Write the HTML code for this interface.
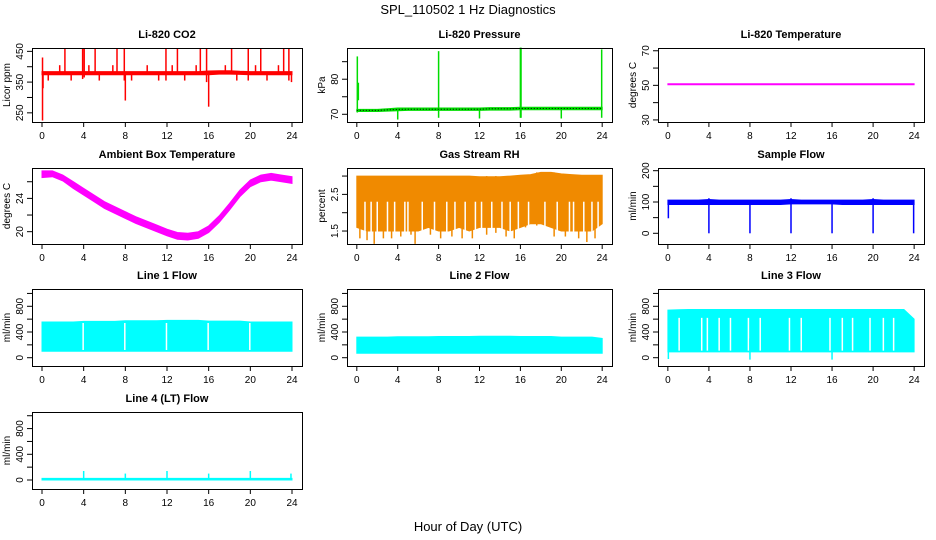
<!DOCTYPE html>
<html><head><meta charset="utf-8"><style>
body{margin:0;background:#fff}
svg{display:block;font-family:"Liberation Sans",sans-serif}
</style></head><body>
<svg id="fig" width="936" height="540" viewBox="0 0 936 540">
<rect width="936" height="540" fill="#fff"/>
<text x="468" y="14" font-size="13" text-anchor="middle">SPL_110502  1 Hz Diagnostics</text>
<text x="468" y="531" font-size="13" text-anchor="middle">Hour of Day (UTC)</text>
</svg>
<script>
const hours=[0,1,2,3,4,5,6,7,8,9,10,11,12,13,14,15,16,17,18,19,20,21,22,23,24];
const xTicks=[0,4,8,12,16,20,24];
// CO2
const co2Lo=[374,374,374,374,374,374,374,374,374,374,374,374,374,374,374,374,374,376,376,375,374,374,374,374,374];
const co2Hi=[384,384,384,384,384,384,384,384,384,384,384,384,384,384,384,384,386,387,387,385,384,384,384,384,384];
const co2SpX=[0.05,0.1,0.6,1.7,2.2,2.8,3.9,4.05,4.5,5.1,5.5,6.8,7.2,7.9,8.0,8.6,10.1,11.2,11.9,12.5,13.0,13.7,14.8,15.2,15.8,16.0,17.6,18.2,18.7,19.8,20.5,21.0,21.6,22.7,23.2,23.7,23.95];
const co2SpLo=[225,330,355,380,380,355,360,365,380,380,355,380,380,355,290,355,380,355,355,380,380,355,380,380,350,270,380,380,355,355,380,380,355,380,380,355,350];
const co2SpHi=[430,380,380,405,458,380,458,460,405,458,380,405,458,460,380,380,405,380,458,405,458,380,405,458,458,380,405,458,380,460,405,458,380,405,458,458,380];
// Pressure
const prLo=[70.8,70.8,70.8,70.9,71.0,71.1,71.1,71.1,71.1,71.1,71.1,71.1,71.1,71.2,71.2,71.2,71.3,71.3,71.3,71.3,71.3,71.3,71.3,71.3,71.3];
const prHi=[71.4,71.4,71.4,71.6,71.8,71.8,71.8,71.8,71.8,71.8,71.8,71.8,71.8,71.9,71.9,71.9,72.0,72.0,72.0,72.0,72.0,72.0,72.0,72.0,72.0];
const prSpX=[0.05,0.15,4.0,8.0,12.0,16.0,16.06,20.0,23.95];
const prSpLo=[70.5,74,68.5,69,68.8,69,69,68.8,69];
const prSpHi=[86.5,79,71.8,88,71.8,89,89,72,88.5];
// Li-820 temperature
const tLo=[50.4,50.4,50.4,50.4,50.4,50.4,50.4,50.4,50.4,50.4,50.4,50.4,50.4,50.4,50.4,50.4,50.4,50.4,50.4,50.4,50.4,50.4,50.4,50.4,50.4];
const tHi=tLo;
// Ambient box temperature
const abLo=[26.5,26.6,26.1,25.2,24.4,23.6,22.8,22.2,21.6,21.0,20.5,20.0,19.5,19.1,19.0,19.2,19.9,21.1,22.6,24.2,25.4,26.0,26.2,26.0,25.8];
const abHi=[27.3,27.3,26.8,26.0,25.2,24.4,23.6,23.0,22.4,21.8,21.3,20.8,20.3,19.9,19.8,20.0,20.7,21.9,23.4,25.0,26.2,26.8,27.0,26.8,26.6];
// Gas stream RH
const rhLo=[1.6,1.5,1.5,1.5,1.5,1.5,1.5,1.6,1.5,1.5,1.6,1.5,1.6,1.6,1.6,1.5,1.6,1.7,1.7,1.6,1.5,1.5,1.5,1.5,1.7];
const rhHi=[3.0,3.0,3.0,3.0,3.0,3.0,3.0,3.0,3.0,3.0,3.0,3.0,2.98,2.98,2.98,3.0,3.02,3.04,3.1,3.1,3.06,3.04,3.02,3.02,3.02];
const rhSpX=[0.3,1.0,1.7,2.6,3.4,4.3,5.3,5.7,7.2,8.2,9.3,10.3,11.3,12.7,13.6,14.6,15.4,16.5,17.6,19.3,20.4,21.7,22.5,23.3];
const rhSpLo=[1.3,1.25,1.15,1.3,1.3,1.35,1.4,1.15,1.4,1.3,1.35,1.3,1.3,1.4,1.45,1.35,1.3,1.6,1.65,1.35,1.35,1.3,1.2,1.3];
const rhSpHi=[3.0,3.0,3.0,3.0,3.0,3.0,3.0,3.0,3.0,3.0,3.0,3.0,3.0,3.0,3.0,3.0,3.0,3.0,3.1,3.1,3.0,3.0,3.0,3.0];
const rhGapX=[0.8,1.4,2.0,3.0,3.7,4.7,5.0,6.4,7.6,8.8,9.6,10.6,11.6,12.2,13.2,14.2,15.0,15.8,16.8,18.4,19.6,20.8,21.2,22.2,23.0,23.6];
// Sample flow
const sfLo=[92,92,92,92,92,92,92,92,92,92,92,92,94,94,94,94,94,92,92,92,92,92,92,92,92];
const sfHi=[106,106,106,106,108,106,106,106,106,106,106,106,108,106,106,106,106,106,106,106,108,106,106,106,106];
const sfSpX=[0.05,4.0,8.0,12.0,16.0,20.0,23.95];
const sfSpLo=[48,0,0,0,0,0,0];
const sfSpHi=[100,112,100,112,100,112,100];
// Line flows
const l1Lo=[100,100,100,100,100,100,100,100,100,100,100,100,100,100,100,100,100,100,100,100,100,100,100,100,100];
const l1Hi=[555,555,555,555,565,565,565,565,575,575,575,575,580,580,580,580,570,570,570,570,555,555,555,555,555];
const l1GapX=[3.95,7.95,11.95,15.95,19.95];
const l2Lo=[70,70,70,70,70,70,70,70,70,70,70,70,70,70,70,70,70,70,70,70,70,70,70,70,70];
const l2Hi=[320,320,320,320,325,325,325,325,330,330,330,330,335,335,335,335,330,330,330,330,320,320,320,320,300];
const l3Lo=[90,90,90,90,90,90,90,90,90,90,90,90,90,90,90,90,90,90,90,90,90,90,90,90,90];
const l3Hi=[740,745,750,750,750,750,750,750,750,750,750,750,750,750,750,750,750,750,750,750,750,750,750,750,600];
const l3GapX=[1.1,3.3,3.85,5.0,6.1,7.85,9.0,11.85,13.0,15.8,17.0,18.0,19.7,21.0,22.0];
const l3SpX=[0.05,8.0,16.0];
const l3SpLo=[-20,-30,-30];
const l3SpHi=[200,300,300];
const l4Lo=[0,0,0,0,0,0,0,0,0,0,0,0,0,0,0,0,0,0,0,0,0,0,0,0,0];
const l4Hi=[25,25,25,25,25,25,25,25,25,25,25,25,25,25,25,25,25,25,25,25,25,25,25,25,25];
const l4SpX=[4.0,8.0,12.0,16.0,20.0,23.9];
const l4SpLo=[0,0,0,0,0,0];
const l4SpHi=[140,100,140,100,140,100];

const lineTicks=[0,200,400,600,800,1000];
const lineLabels=["0","","400","","800",""];

const cols=[[32,302],[347,612],[658,924]];
const rows=[[48,122],[168,244],[289,366],[412,489]];
const NS="http://www.w3.org/2000/svg";
const svg=document.getElementById('fig');
function mk(tag,attrs,parent){const e=document.createElementNS(NS,tag);for(const k in attrs)e.setAttribute(k,attrs[k]);(parent||svg).appendChild(e);return e;}

const panels=[
 {id:'co2',title:'Li-820 CO2',ylab:'Licor ppm',c:0,r:0,ymin:220.2,ymax:460.9,ticks:[250,300,350,400,450],labels:["250","","350","","450"],color:'#ff0000',lo:co2Lo,hi:co2Hi,spX:co2SpX,spLo:co2SpLo,spHi:co2SpHi,sw:1.5},
 {id:'pressure',title:'Li-820 Pressure',ylab:'kPa',c:1,r:0,ymin:67.8,ymax:88.9,ticks:[70,75,80,85],labels:["70","","80",""],color:'#00dd00',lo:prLo,hi:prHi,spX:prSpX,spLo:prSpLo,spHi:prSpHi,dotted:true,sw:1.5},
 {id:'li820-temp',title:'Li-820 Temperature',ylab:'degrees C',c:2,r:0,ymin:28.8,ymax:71.6,ticks:[30,40,50,60,70],labels:["30","","50","","70"],color:'#ff00ff',lo:tLo,hi:tHi},
 {id:'ambient-temp',title:'Ambient Box Temperature',ylab:'degrees C',c:0,r:1,ymin:18.52,ymax:27.65,ticks:[20,22,24,26],labels:["20","","24",""],color:'#ff00ff',lo:abLo,hi:abHi},
 {id:'gas-rh',title:'Gas Stream RH',ylab:'percent',c:1,r:1,ymin:1.146,ymax:3.22,ticks:[1.5,2,2.5,3],labels:["1.5","","2.5",""],color:'#f08a00',lo:rhLo,hi:rhHi,spX:rhSpX,spLo:rhSpLo,spHi:rhSpHi,gapX:rhGapX,gapLo:1.4,gapHi:2.3,sw:1.5},
 {id:'sample-flow',title:'Sample Flow',ylab:'ml/min',c:2,r:1,ymin:-34.2,ymax:208.6,ticks:[0,50,100,150,200],labels:["0","","100","","200"],color:'#0000ff',lo:sfLo,hi:sfHi,spX:sfSpX,spLo:sfSpLo,spHi:sfSpHi,sw:1.5},
 {id:'line1-flow',title:'Line 1 Flow',ylab:'ml/min',c:0,r:2,ymin:-129,ymax:1069,ticks:lineTicks,labels:lineLabels,color:'#00ffff',lo:l1Lo,hi:l1Hi,gapX:l1GapX,gapLo:120,gapHi:540},
 {id:'line2-flow',title:'Line 2 Flow',ylab:'ml/min',c:1,r:2,ymin:-129,ymax:1069,ticks:lineTicks,labels:lineLabels,color:'#00ffff',lo:l2Lo,hi:l2Hi},
 {id:'line3-flow',title:'Line 3 Flow',ylab:'ml/min',c:2,r:2,ymin:-129,ymax:1069,ticks:lineTicks,labels:lineLabels,color:'#00ffff',lo:l3Lo,hi:l3Hi,gapX:l3GapX,gapLo:110,gapHi:620,spX:l3SpX,spLo:l3SpLo,spHi:l3SpHi,sw:1.5},
 {id:'line4-flow',title:'Line 4 (LT) Flow',ylab:'ml/min',c:0,r:3,ymin:-140,ymax:1058,ticks:lineTicks,labels:lineLabels,color:'#00ffff',lo:l4Lo,hi:l4Hi,spX:l4SpX,spLo:l4SpLo,spHi:l4SpHi,sw:1.5}
];

panels.forEach(p=>{
  const [x0,x1]=cols[p.c],[y0,y1]=rows[p.r];
  const w=x1-x0;
  const pad=0.04*w/1.08;
  const X=h=>x0+pad+(h/24)*(w-2*pad);
  const Y=v=>y1-(v-p.ymin)/(p.ymax-p.ymin)*(y1-y0);
  const g=mk('g',{});
  
  
  const t=mk('text',{x:(x0+x1)/2,y:y0-10,'font-size':11,'font-weight':'bold','text-anchor':'middle'},g);
  t.textContent=p.title;
  
  
  let d='';
  hours.forEach((h,i)=>{d+=(i?'L':'M')+X(h).toFixed(1)+','+Math.min(Y(p.hi[i]),Y(p.lo[i])-1).toFixed(1);});
  for(let i=hours.length-1;i>=0;i--)d+='L'+X(hours[i]).toFixed(1)+','+Y(p.lo[i]).toFixed(1);
  const band=mk('path',{d:d+'Z',fill:p.color,stroke:p.color,'stroke-width':1},g);
  
  
  if(p.gapX){p.gapX.forEach(h=>{
    const s=mk('line',{x1:X(h),x2:X(h),y1:Y(p.gapHi),y2:Y(p.gapLo),stroke:'#fff','stroke-width':1.5},g);
    
    
  });}
  if(p.spX){p.spX.forEach((h,i)=>{
    const s=mk('line',{x1:X(h),x2:X(h),y1:Y(p.spLo[i]),y2:Y(p.spHi[i]),stroke:p.color,'stroke-width':p.sw||1.5},g);
    
    
  });}
  if(p.dotted){
    let dd='';hours.forEach((h,i)=>{dd+=(i?'L':'M')+X(h).toFixed(1)+','+Y((p.lo[i]+p.hi[i])/2).toFixed(1);});
    const l=mk('path',{d:dd,fill:'none',stroke:'#000','stroke-width':1,'stroke-dasharray':'1 2'},g);
    
    
  }
  const b=mk('rect',{x:x0+0.5,y:y0+0.5,width:w,height:y1-y0,fill:'none',stroke:'#000','stroke-width':1},g);
  
  
  xTicks.forEach(h=>{
    const tk=mk('line',{x1:X(h),x2:X(h),y1:y1,y2:y1+5,stroke:'#000'},g);
    
    
    const tl=mk('text',{x:X(h),y:y1+17,'font-size':10,'text-anchor':'middle'},g);
    tl.textContent=h;
    
    
  });
  p.ticks.forEach((v,i)=>{
    const yy=Y(v);
    const tk=mk('line',{x1:x0-5,x2:x0,y1:yy,y2:yy,stroke:'#000'},g);
    
    
    if(p.labels[i]){
      const tl=mk('text',{x:0,y:0,'font-size':10,'text-anchor':'middle',transform:`translate(${x0-9},${yy}) rotate(-90)`},g);
      tl.textContent=p.labels[i];
      
      
    }
  });
  const yl=mk('text',{x:0,y:0,'font-size':10,'text-anchor':'middle',transform:`translate(${x0-22},${(y0+y1)/2}) rotate(-90)`},g);
  yl.textContent=p.ylab;
  
  
});
</script>
</body></html>
